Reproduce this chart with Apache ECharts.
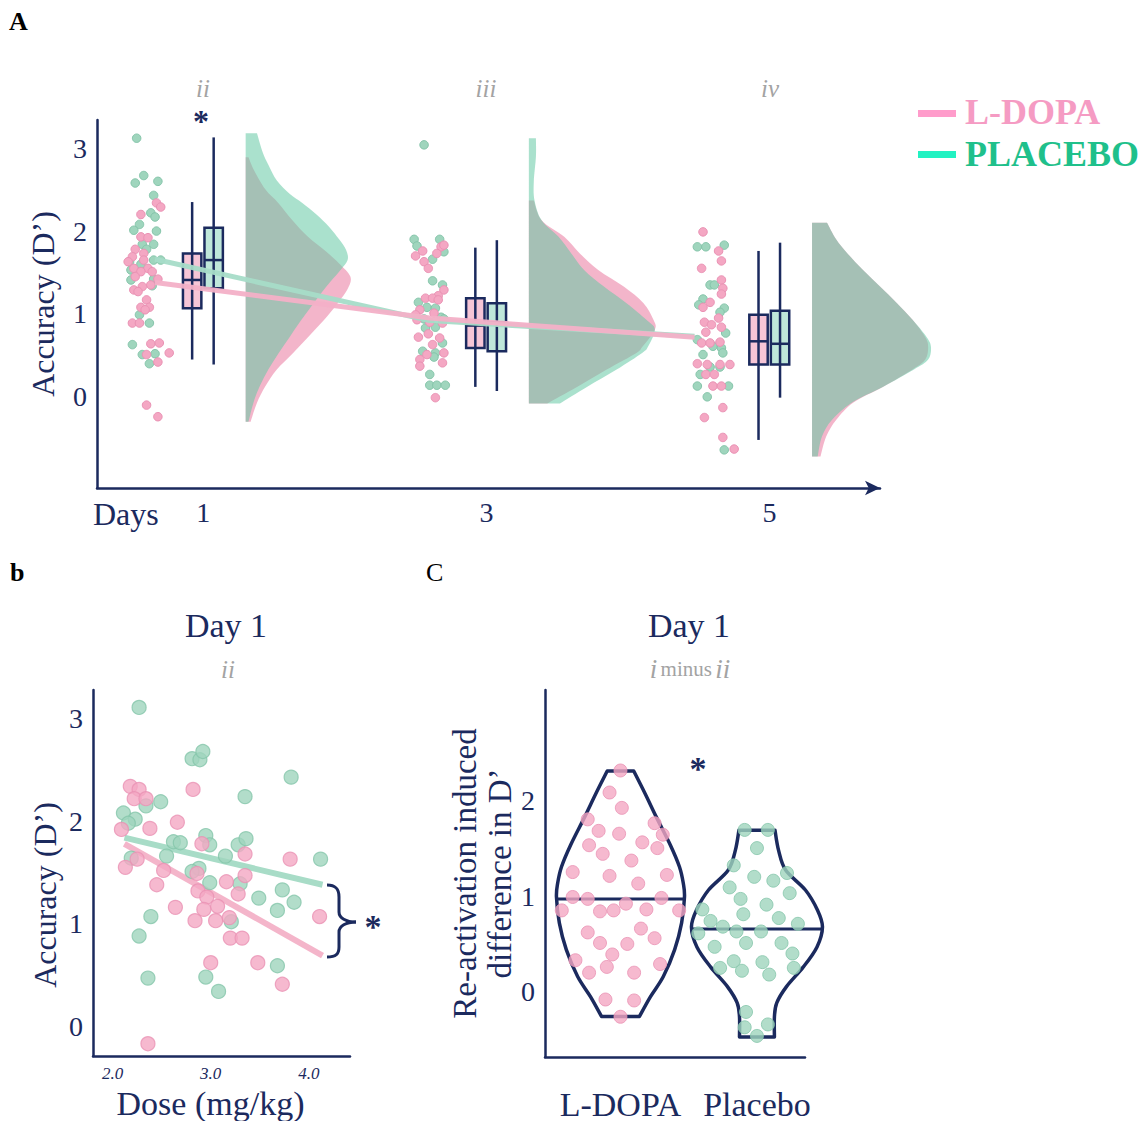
<!DOCTYPE html>
<html><head><meta charset="utf-8">
<script src="https://cdn.jsdelivr.net/npm/echarts@6/dist/echarts.min.js"></script>
<style>html,body{margin:0;padding:0;background:#fff}#c{width:1146px;height:1121px}</style>
</head><body><div id="c"></div>
<script>
// ---------------- Panel A data ----------------
const days = [1, 3, 5];
const sessionLabels = ['ii', 'iii', 'iv'];
const accTicks = [0, 1, 2, 3];

const ldopaPtsDay1 = [[0.67,2.34],[0.70,2.29],[0.56,2.20],[0.56,1.93],[0.61,1.92],[0.52,1.78],[0.58,1.73],[0.50,1.69],[0.58,1.65],[0.47,1.63],[0.61,1.55],[0.51,1.55],[0.56,1.51],[0.64,1.51],[0.52,1.45],[0.68,1.42],[0.63,1.35],[0.57,1.33],[0.51,1.29],[0.54,1.27],[0.60,1.17],[0.56,1.08],[0.62,1.08],[0.59,1.05],[0.50,0.89],[0.55,0.89],[0.63,0.64],[0.69,0.65],[0.60,0.51],[0.76,0.53],[0.68,0.42],[0.60,-0.10],[0.68,-0.24]];
const placeboPtsDay1 = [[0.53,3.12],[0.52,2.58],[0.58,2.67],[0.68,2.60],[0.65,2.43],[0.63,2.22],[0.66,2.17],[0.55,2.08],[0.51,2.01],[0.67,2.00],[0.57,1.84],[0.65,1.84],[0.60,1.78],[0.48,1.63],[0.65,1.65],[0.70,1.65],[0.56,1.60],[0.49,1.53],[0.49,1.41],[0.65,1.42],[0.64,1.34],[0.55,0.99],[0.62,0.89],[0.50,0.63],[0.57,0.51],[0.66,0.52],[0.62,0.40]];
const ldopaPtsDay3 = [[2.50,1.70],[2.55,1.76],[2.56,1.63],[2.59,1.55],[2.68,1.81],[2.65,1.73],[2.70,1.83],[2.70,1.29],[2.66,1.22],[2.57,1.19],[2.62,1.19],[2.66,1.17],[2.53,1.05],[2.50,0.99],[2.63,1.01],[2.51,0.93],[2.60,0.90],[2.69,0.89],[2.52,0.72],[2.59,0.76],[2.67,0.71],[2.62,0.63],[2.58,0.51],[2.70,0.53],[2.53,0.45],[2.69,0.41],[2.53,0.37],[2.64,-0.01]];
const placeboPtsDay3 = [[2.56,3.04],[2.49,1.90],[2.51,1.82],[2.67,1.90],[2.70,1.75],[2.62,1.66],[2.62,1.40],[2.69,1.35],[2.52,1.14],[2.58,1.08],[2.64,1.07],[2.68,0.96],[2.56,0.94],[2.70,0.94],[2.57,0.83],[2.64,0.84],[2.69,0.65],[2.55,0.55],[2.64,0.53],[2.63,0.48],[2.60,0.27],[2.60,0.14],[2.65,0.14],[2.71,0.14]];
const ldopaPtsDay5 = [[4.53,1.99],[4.64,1.76],[4.66,1.64],[4.52,1.55],[4.66,1.41],[4.67,1.31],[4.66,1.24],[4.58,1.14],[4.53,1.08],[4.64,0.95],[4.54,0.90],[4.59,0.87],[4.66,0.84],[4.55,0.78],[4.52,0.65],[4.58,0.65],[4.65,0.66],[4.49,0.40],[4.56,0.39],[4.65,0.39],[4.72,0.39],[4.55,0.27],[4.61,0.27],[4.60,0.13],[4.66,0.13],[4.67,-0.13],[4.54,-0.25],[4.67,-0.49],[4.75,-0.63]];
const placeboPtsDay5 = [[4.49,1.81],[4.55,1.81],[4.68,1.83],[4.58,1.35],[4.61,1.35],[4.53,1.18],[4.50,1.11],[4.68,1.07],[4.65,1.02],[4.69,0.77],[4.49,0.69],[4.60,0.61],[4.66,0.59],[4.53,0.51],[4.67,0.53],[4.58,0.36],[4.65,0.36],[4.51,0.27],[4.49,0.13],[4.71,0.13],[4.56,0.00],[4.68,-0.64]];

// box stats per day: [lowWhisker, q1, median, q3, highWhisker]
const ldopaBox = [[0.45,1.07,1.41,1.73,2.35],[0.12,0.59,0.86,1.19,1.80],[-0.52,0.39,0.67,0.99,1.76]];
const placeboBox = [[0.39,1.31,1.65,2.04,3.13],[0.07,0.55,0.90,1.13,1.89],[-0.01,0.39,0.64,1.04,1.86]];

// group trend lines
const ldopaTrend = [[0.66,1.38],[2.60,0.95],[4.47,0.72]];
const placeboTrend = [[0.66,1.66],[2.60,0.92],[4.47,0.73]];

// half-violin density profiles per day: [accuracy, density width]
const ldopaDens = [
  [[2.89,0.02],[2.73,0.06],[2.5,0.14],[2.34,0.23],[2.13,0.33],[1.93,0.44],[1.75,0.57],[1.61,0.66],[1.45,0.74],[1.3,0.72],[1.13,0.65],[0.92,0.55],[0.72,0.44],[0.52,0.33],[0.33,0.22],[0.13,0.14],[-0.07,0.08],[-0.3,0.035]],
  [[2.37,0.035],[2.13,0.09],[1.93,0.25],[1.73,0.36],[1.53,0.49],[1.33,0.67],[1.13,0.81],[0.93,0.88],[0.81,0.89],[0.6,0.8],[0.53,0.76],[0.33,0.55],[0.12,0.34],[-0.08,0.13]],
  [[2.10,0.106],[1.9,0.17],[1.73,0.25],[1.53,0.36],[1.33,0.48],[1.13,0.6],[0.93,0.71],[0.72,0.8],[0.6,0.82],[0.45,0.8],[0.33,0.71],[0.12,0.5],[-0.07,0.29],[-0.28,0.17],[-0.48,0.1],[-0.72,0.06]]
];
const placeboDens = [
  [[3.18,0.08],[2.95,0.12],[2.8,0.16],[2.61,0.22],[2.45,0.31],[2.34,0.4],[2.2,0.5],[2.05,0.59],[1.9,0.66],[1.77,0.71],[1.65,0.72],[1.53,0.67],[1.33,0.57],[1.13,0.48],[0.92,0.39],[0.72,0.31],[0.52,0.23],[0.33,0.16],[0.13,0.1],[-0.07,0.055],[-0.3,0.02]],
  [[3.12,0.05],[2.9,0.05],[2.6,0.035],[2.37,0.04],[2.13,0.09],[1.93,0.21],[1.73,0.3],[1.53,0.39],[1.33,0.53],[1.13,0.69],[0.93,0.83],[0.81,0.89],[0.6,0.84],[0.53,0.8],[0.33,0.62],[0.12,0.41],[-0.08,0.22]],
  [[2.10,0.106],[1.9,0.17],[1.73,0.25],[1.53,0.36],[1.33,0.48],[1.13,0.6],[0.93,0.71],[0.72,0.81],[0.6,0.84],[0.45,0.82],[0.33,0.72],[0.12,0.5],[-0.07,0.28],[-0.28,0.14],[-0.48,0.07],[-0.72,0.04]]
];

// ---------------- Panel b data ----------------
const doseTicks = [2, 3, 4];
const ldopaDose = [[2.18,2.34],[2.27,2.31],[2.22,2.22],[2.34,2.22],[2.82,2.31],[2.09,1.92],[2.38,1.93],[2.66,1.99],[2.91,1.78],[3.35,1.68],[2.25,1.63],[2.13,1.55],[2.52,1.52],[2.86,1.49],[3.35,1.47],[3.81,1.63],[2.45,1.38],[3.16,1.41],[2.87,1.32],[2.96,1.26],[3.28,1.29],[3.07,1.17],[2.93,1.14],[2.64,1.16],[2.84,1.03],[3.05,1.03],[3.19,1.06],[4.11,1.07],[3.20,0.86],[3.32,0.86],[3.00,0.62],[3.48,0.62],[3.73,0.41],[2.36,-0.17]];
const placeboDose = [[2.27,3.11],[2.81,2.61],[2.89,2.60],[2.92,2.68],[3.82,2.43],[3.35,2.24],[2.49,2.19],[2.34,2.15],[2.11,2.08],[2.23,2.02],[2.16,1.98],[2.62,1.80],[2.69,1.79],[2.95,1.86],[2.99,1.77],[3.28,1.77],[3.36,1.83],[3.15,1.66],[2.55,1.66],[2.19,1.64],[2.88,1.54],[2.81,1.51],[2.99,1.40],[3.30,1.39],[4.12,1.63],[3.49,1.25],[3.73,1.33],[3.85,1.21],[3.68,1.13],[3.21,1.02],[2.39,1.07],[2.27,0.88],[3.68,0.59],[2.36,0.47],[2.95,0.48],[3.08,0.34]];
const ldopaFit = [[2.12,1.78],[4.14,0.69]];
const placeboFit = [[2.12,1.84],[4.14,1.38]];

// ---------------- Panel C data ----------------
const groups = ['L-DOPA', 'Placebo'];
const diffTicks = [0, 1, 2];
const ldopaDiff = [[1.00,2.31],[0.92,2.08],[1.01,1.92],[0.76,1.80],[0.84,1.68],[0.99,1.65],[1.25,1.76],[1.31,1.64],[0.77,1.53],[1.16,1.56],[1.27,1.50],[0.87,1.44],[1.08,1.37],[0.65,1.25],[0.92,1.21],[1.34,1.22],[1.13,1.13],[0.65,0.99],[0.76,0.97],[1.30,0.98],[1.04,0.92],[0.57,0.85],[0.85,0.84],[0.95,0.85],[1.19,0.86],[1.43,0.85],[0.76,0.62],[1.15,0.66],[1.25,0.56],[0.85,0.51],[1.05,0.50],[0.94,0.39],[0.67,0.33],[1.29,0.29],[0.90,0.26],[0.77,0.20],[1.10,0.20],[0.89,-0.08],[1.10,-0.09],[1.00,-0.26]];
const placeboDiff = [[1.91,1.69],[2.08,1.69],[2.00,1.50],[1.83,1.32],[1.98,1.20],[2.12,1.16],[2.22,1.24],[1.80,1.09],[2.24,1.03],[1.88,0.97],[2.07,0.91],[1.60,0.86],[1.90,0.81],[2.16,0.77],[2.36,0.80],[1.66,0.74],[1.75,0.68],[2.30,0.71],[2.45,0.67],[1.57,0.61],[1.85,0.63],[2.03,0.63],[1.92,0.51],[2.18,0.51],[2.40,0.54],[1.69,0.47],[2.26,0.40],[1.83,0.32],[2.04,0.31],[1.73,0.25],[1.89,0.22],[2.09,0.18],[2.27,0.25],[1.92,-0.21],[1.91,-0.37],[2.08,-0.34],[2.00,-0.46]];
// violin outline half-widths: [difference, half width]
const ldopaViolin = [[2.305,0.097],[2.07,0.18],[1.826,0.262],[1.53,0.366],[1.305,0.432],[1.135,0.46],[0.99,0.469],[0.72,0.448],[0.44,0.397],[0.16,0.314],[-0.05,0.22],[-0.257,0.139]];
const placeboViolin = [[1.6875,0.132],[1.479,0.158],[1.271,0.21],[1.0625,0.355],[0.854,0.443],[0.677,0.48],[0.469,0.44],[0.26,0.34],[0.052,0.215],[-0.115,0.145],[-0.26,0.128],[-0.47,0.128]];
const diffMedians = [0.97, 0.656];

// ---------------- styling ----------------
const NAVY = '#1b2a5e';
const SF = '"Liberation Serif","DejaVu Serif",serif';
const PINK_PT = '#f4a7c3', PINK_BD = '#ea92b4';
const GREEN_PT = '#9fd5bd', GREEN_BD = '#85c5aa';

function crPath(p) {
  let s = '';
  for (let i = 0; i < p.length - 1; i++) {
    const p0 = p[i - 1] || p[i], p1 = p[i], p2 = p[i + 1], p3 = p[i + 2] || p[i + 1];
    const c1x = p1[0] + (p2[0] - p0[0]) / 6, c1y = p1[1] + (p2[1] - p0[1]) / 6;
    const c2x = p2[0] - (p3[0] - p1[0]) / 6, c2y = p2[1] - (p3[1] - p1[1]) / 6;
    s += ` C${c1x},${c1y} ${c2x},${c2y} ${p2[0]},${p2[1]}`;
  }
  return s;
}
function interpW(prof, y) {
  for (let i = 0; i < prof.length - 1; i++) {
    const a = prof[i], b = prof[i + 1];
    if (y <= a[0] && y >= b[0]) return a[1] + (b[1] - a[1]) * (a[0] - y) / (a[0] - b[0]);
  }
  return prof[0][1];
}

function halfViolin(dens, color) {
  return {
    type: 'custom', xAxisIndex: 0, yAxisIndex: 0, clip: false, z: 1, silent: true,
    data: days.map((d, i) => [d, i]),
    renderItem(params, api) {
      const i = params.dataIndex, prof = dens[i], base = days[i] + 0.3;
      const pts = prof.map(([y, w]) => api.coord([base + w, y]));
      const t = api.coord([base, prof[0][0]]), b = api.coord([base, prof[prof.length - 1][0]]);
      const d = `M${t[0]},${t[1]} L${pts[0][0]},${pts[0][1]}` + crPath(pts) + ` L${b[0]},${b[1]} Z`;
      return { type: 'path', shape: { pathData: d }, style: { fill: color } };
    }
  };
}
function boxes(stats, offset, fill) {
  return {
    type: 'custom', xAxisIndex: 0, yAxisIndex: 0, z: 3, silent: true,
    data: days.map((d, i) => [d + offset].concat(stats[i])),
    renderItem(params, api) {
      const x = api.value(0);
      const pLo = api.coord([x, api.value(1)]), pQ1 = api.coord([x, api.value(2)]);
      const pMd = api.coord([x, api.value(3)]), pQ3 = api.coord([x, api.value(4)]);
      const pHi = api.coord([x, api.value(5)]);
      const hw = api.size([0.13, 0])[0] / 2;
      const st = { stroke: NAVY, lineWidth: 2.5 };
      return { type: 'group', children: [
        { type: 'rect', shape: { x: pQ3[0] - hw, y: pQ3[1], width: 2 * hw, height: pQ1[1] - pQ3[1] }, style: { fill: fill, stroke: NAVY, lineWidth: 2.5 } },
        { type: 'line', shape: { x1: pLo[0], y1: pLo[1], x2: pHi[0], y2: pHi[1] }, style: st },
        { type: 'line', shape: { x1: pMd[0] - hw, y1: pMd[1], x2: pMd[0] + hw, y2: pMd[1] }, style: st }
      ]};
    }
  };
}
const violinOutlines = [ldopaViolin, placeboViolin];

const axisLineStyle = (arrow) => ({ show: true, onZero: false, lineStyle: { color: NAVY, width: 2.5 },
  symbol: arrow ? ['none', 'arrow'] : 'none', symbolSize: [11, 15] });
const lbl = (extra) => Object.assign({ color: NAVY, fontFamily: SF, fontSize: 28 }, extra);
const brace = (x1, y1, cpx1, cpy1, cpx2, cpy2, x2, y2) => ({ type: 'bezierCurve',
  shape: { x1, y1, cpx1, cpy1, cpx2, cpy2, x2, y2 }, style: { fill: 'none', stroke: NAVY, lineWidth: 3 } });

const option = {
  backgroundColor: '#fff',
  animation: false,
  grid: [
    { left: 97, top: 120, width: 783, height: 368 },
    { left: 93, top: 690, width: 257, height: 367 },
    { left: 545, top: 690, width: 260, height: 367 }
  ],
  xAxis: [
    { gridIndex: 0, type: 'value', min: 0.25, max: 5.78, axisLine: axisLineStyle(true), axisTick: { show: false }, splitLine: { show: false },
      axisLabel: lbl({ customValues: days, margin: 10 }) },
    { gridIndex: 1, type: 'value', min: 1.80, max: 4.42, axisLine: axisLineStyle(false), axisTick: { show: false }, splitLine: { show: false },
      axisLabel: lbl({ customValues: doseTicks, fontSize: 17, fontStyle: 'italic', margin: 9, formatter: v => v.toFixed(1) }),
      name: 'Dose (mg/kg)', nameLocation: 'middle', nameGap: 30,
      nameTextStyle: { color: NAVY, fontFamily: SF, fontSize: 34, padding: [0, 22, 0, 0] } },
    { gridIndex: 2, type: 'value', min: 0.447, max: 2.352, axisLine: axisLineStyle(false), axisTick: { show: false }, splitLine: { show: false },
      axisLabel: lbl({ customValues: [1, 2], fontSize: 34, margin: 30, formatter: v => groups[Math.round(v) - 1] }) }
  ],
  yAxis: [
    { gridIndex: 0, type: 'value', min: -1.1, max: 3.34, axisLine: axisLineStyle(false), axisTick: { show: false }, splitLine: { show: false },
      axisLabel: lbl({ customValues: accTicks, margin: 10 }),
      name: 'Accuracy (D\u2019)', nameLocation: 'middle', nameRotate: 90, nameGap: 38, nameTextStyle: { color: NAVY, fontFamily: SF, fontSize: 32 } },
    { gridIndex: 1, type: 'value', min: -0.29, max: 3.28, axisLine: axisLineStyle(false), axisTick: { show: false }, splitLine: { show: false },
      axisLabel: lbl({ customValues: accTicks, margin: 10 }),
      name: 'Accuracy (D\u2019)', nameLocation: 'middle', nameRotate: 90, nameGap: 32,
      nameTextStyle: { color: NAVY, fontFamily: SF, fontSize: 32, padding: [0, 44, 0, 0] } },
    { gridIndex: 2, type: 'value', min: -0.68, max: 3.15, axisLine: axisLineStyle(false), axisTick: { show: false }, splitLine: { show: false },
      axisLabel: lbl({ customValues: diffTicks, margin: 10 }),
      name: 'Re-activation induced\ndifference in D\u2019', nameLocation: 'middle', nameRotate: 90, nameGap: 24,
      nameTextStyle: { color: NAVY, fontFamily: SF, fontSize: 33, lineHeight: 35 } }
  ],
  series: [
    // Panel A
    halfViolin(ldopaDens, 'rgba(233,120,159,0.55)'),
    halfViolin(placeboDens, 'rgba(100,200,164,0.55)'),
    { type: 'scatter', xAxisIndex: 0, yAxisIndex: 0, z: 2, symbolSize: 8.5, silent: true,
      data: placeboPtsDay1.concat(placeboPtsDay3, placeboPtsDay5),
      itemStyle: { color: GREEN_PT, borderColor: GREEN_BD, borderWidth: 1, opacity: 1 } },
    { type: 'scatter', xAxisIndex: 0, yAxisIndex: 0, z: 2, symbolSize: 8.5, silent: true,
      data: ldopaPtsDay1.concat(ldopaPtsDay3, ldopaPtsDay5),
      itemStyle: { color: PINK_PT, borderColor: PINK_BD, borderWidth: 1, opacity: 1 } },
    boxes(ldopaBox, -0.078, '#f6c5d6'),
    boxes(placeboBox, 0.074, '#bfe7da'),
    { type: 'line', xAxisIndex: 0, yAxisIndex: 0, z: 4, data: placeboTrend, showSymbol: false, silent: true,
      lineStyle: { color: '#a6dcc8', width: 5, opacity: 0.95 } },
    { type: 'line', xAxisIndex: 0, yAxisIndex: 0, z: 4, data: ldopaTrend, showSymbol: false, silent: true,
      lineStyle: { color: '#f3b0c7', width: 5, opacity: 0.95 } },
    // Panel b
    { type: 'line', xAxisIndex: 1, yAxisIndex: 1, z: 2, data: placeboFit, showSymbol: false, silent: true,
      lineStyle: { color: '#a8dcc7', width: 6 } },
    { type: 'line', xAxisIndex: 1, yAxisIndex: 1, z: 2, data: ldopaFit, showSymbol: false, silent: true,
      lineStyle: { color: '#f4b5ca', width: 6 } },
    { type: 'scatter', xAxisIndex: 1, yAxisIndex: 1, z: 3, symbolSize: 14, silent: true, data: placeboDose,
      itemStyle: { color: GREEN_PT, borderColor: GREEN_BD, borderWidth: 1.2 } },
    { type: 'scatter', xAxisIndex: 1, yAxisIndex: 1, z: 3, symbolSize: 14, silent: true, data: ldopaDose,
      itemStyle: { color: PINK_PT, borderColor: PINK_BD, borderWidth: 1.2 } },
    // Panel C
    { type: 'custom', xAxisIndex: 2, yAxisIndex: 2, z: 2, silent: true,
      data: groups.map((g, i) => [i + 1, diffMedians[i]]),
      renderItem(params, api) {
        const i = params.dataIndex, prof = violinOutlines[i], c = api.value(0);
        const right = prof.map(([y, w]) => api.coord([c + w, y]));
        const left = prof.slice().reverse().map(([y, w]) => api.coord([c - w, y]));
        const d = `M${right[0][0]},${right[0][1]}` + crPath(right) + ` L${left[0][0]},${left[0][1]}` + crPath(left) + ' Z';
        const md = api.value(1), hw = interpW(prof, md);
        const a = api.coord([c - hw, md]), b = api.coord([c + hw, md]);
        return { type: 'group', children: [
          { type: 'path', shape: { pathData: d }, style: { fill: 'none', stroke: NAVY, lineWidth: 3.5, lineJoin: 'round' } },
          { type: 'line', shape: { x1: a[0], y1: a[1], x2: b[0], y2: b[1] }, style: { stroke: NAVY, lineWidth: 3 } }
        ]};
      } },
    { type: 'scatter', xAxisIndex: 2, yAxisIndex: 2, z: 3, symbolSize: 13, silent: true, data: ldopaDiff,
      itemStyle: { color: PINK_PT, borderColor: PINK_BD, borderWidth: 1 } },
    { type: 'scatter', xAxisIndex: 2, yAxisIndex: 2, z: 3, symbolSize: 13, silent: true, data: placeboDiff,
      itemStyle: { color: GREEN_PT, borderColor: GREEN_BD, borderWidth: 1 } }
  ],
  graphic: [
    { type: 'text', x: 9, y: 21, style: { text: 'A', font: 'bold 26px ' + SF, fill: '#000', align: 'left', verticalAlign: 'middle' } },
    { type: 'text', x: 10, y: 572, style: { text: 'b', font: 'bold 26px ' + SF, fill: '#000', align: 'left', verticalAlign: 'middle' } },
    { type: 'text', x: 426, y: 572, style: { text: 'C', font: '26px ' + SF, fill: '#000', align: 'left', verticalAlign: 'middle' } },
    // session labels
    { type: 'text', x: 203, y: 88, style: { text: sessionLabels[0], font: 'italic 25px ' + SF, fill: '#a3a3a3', align: 'center', verticalAlign: 'middle' } },
    { type: 'text', x: 486, y: 88, style: { text: sessionLabels[1], font: 'italic 25px ' + SF, fill: '#a3a3a3', align: 'center', verticalAlign: 'middle' } },
    { type: 'text', x: 770, y: 88, style: { text: sessionLabels[2], font: 'italic 25px ' + SF, fill: '#a3a3a3', align: 'center', verticalAlign: 'middle' } },
    { type: 'text', x: 201, y: 121, style: { text: '*', font: 'bold 32px ' + SF, fill: NAVY, align: 'center', verticalAlign: 'middle' } },
    { type: 'text', x: 93, y: 514, style: { text: 'Days', font: '32px ' + SF, fill: NAVY, align: 'left', verticalAlign: 'middle' } },
    // legend
    { type: 'rect', shape: { x: 918, y: 110, width: 38, height: 7 }, style: { fill: '#ff9ccb' } },
    { type: 'text', x: 965, y: 112, style: { text: 'L-DOPA', font: 'bold 36px ' + SF, fill: '#f59bc3', align: 'left', verticalAlign: 'middle' } },
    { type: 'rect', shape: { x: 918, y: 151, width: 38, height: 7 }, style: { fill: '#22f2c2' } },
    { type: 'text', x: 965, y: 154, style: { text: 'PLACEBO', font: 'bold 36px ' + SF, fill: '#1fc08b', align: 'left', verticalAlign: 'middle' } },
    // panel b titles and brace
    { type: 'text', x: 226, y: 625, style: { text: 'Day 1', font: '34px ' + SF, fill: NAVY, align: 'center', verticalAlign: 'middle' } },
    { type: 'text', x: 228, y: 669, style: { text: 'ii', font: 'italic 25px ' + SF, fill: '#a3a3a3', align: 'center', verticalAlign: 'middle' } },
    brace(327, 885, 336, 885, 339, 889, 339, 897),
    { type: 'line', shape: { x1: 339, y1: 897, x2: 339, y2: 912 }, style: { stroke: NAVY, lineWidth: 3 } },
    brace(339, 912, 339, 918, 346, 922, 356, 922),
    brace(356, 922, 346, 922, 339, 926, 339, 932),
    { type: 'line', shape: { x1: 339, y1: 932, x2: 339, y2: 947 }, style: { stroke: NAVY, lineWidth: 3 } },
    brace(339, 947, 339, 954, 336, 957, 327, 957),
    { type: 'text', x: 373, y: 926, style: { text: '*', font: 'bold 34px ' + SF, fill: NAVY, align: 'center', verticalAlign: 'middle' } },
    // panel C titles
    { type: 'text', x: 689, y: 625, style: { text: 'Day 1', font: '34px ' + SF, fill: NAVY, align: 'center', verticalAlign: 'middle' } },
    { type: 'text', x: 690, y: 669, style: { text: '{a|i} {b|minus} {a|ii}', align: 'center', verticalAlign: 'middle',
      rich: { a: { fontFamily: SF, fontStyle: 'italic', fontSize: 27, fill: '#a3a3a3', color: '#a3a3a3' },
              b: { fontFamily: SF, fontSize: 21, fill: '#a3a3a3', color: '#a3a3a3' } } } },
    { type: 'text', x: 698, y: 768, style: { text: '*', font: 'bold 34px ' + SF, fill: NAVY, align: 'center', verticalAlign: 'middle' } }
  ]
};

const chart = echarts.init(document.getElementById('c'), null, { renderer: 'svg' });
chart.setOption(option);
</script>
</body></html>
